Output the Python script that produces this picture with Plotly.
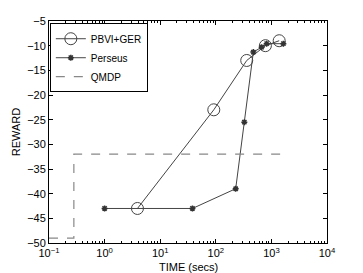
import plotly.graph_objects as go

pbvi_time = [3.9, 92, 360, 780, 1380]
pbvi_reward = [-43, -23, -13, -10, -9]

perseus_time = [1, 38, 228, 326, 473, 668, 822, 1640]
perseus_reward = [-43, -43, -39, -25.5, -11.3, -10.3, -9.6, -9.6]

qmdp_time = [0.1, 0.28, 0.28, 2000]
qmdp_reward = [-49, -49, -32, -32]

x_tickvals = [0.1, 1, 10, 100, 1000, 10000]
x_ticktext = ["10<sup>−1</sup>", "10<sup>0</sup>", "10<sup>1</sup>", "10<sup>2</sup>", "10<sup>3</sup>", "10<sup>4</sup>"]
y_tickvals = [-5, -10, -15, -20, -25, -30, -35, -40, -45, -50]

minor_vals = [m * 10 ** e for e in range(-1, 4) for m in range(2, 10)]

fig = go.Figure()
fig.add_trace(go.Scatter(
    x=pbvi_time, y=pbvi_reward, name="PBVI+GER", mode="lines+markers",
    line=dict(color="#444444", width=1),
    marker=dict(symbol="circle-open", size=12, color="#444444", line=dict(width=1)),
))
fig.add_trace(go.Scatter(
    x=perseus_time, y=perseus_reward, name="Perseus", mode="lines+markers",
    line=dict(color="#444444", width=1),
    marker=dict(symbol="asterisk-open", size=5, color="#333333", line=dict(width=1.5, color="#333333")),
))
fig.add_trace(go.Scatter(
    x=qmdp_time, y=qmdp_reward, name="QMDP", mode="lines",
    line=dict(color="#888888", width=1.2, dash="dash"),
))

axis_common = dict(
    showline=True, linecolor="black", linewidth=1, mirror="ticks",
    ticks="inside", ticklen=4, tickcolor="black", showgrid=False, zeroline=False,
    automargin=False,
    tickfont=dict(family="Liberation Sans, Arial", size=11, color="black"),
)

fig.update_layout(
    width=355, height=265,
    margin=dict(l=41, r=36, t=13, b=30),
    paper_bgcolor="white", plot_bgcolor="white",
    font=dict(family="Liberation Sans, Arial", size=11, color="black"),
    xaxis=dict(
        type="log", range=[-1, 4], tickvals=x_tickvals, ticktext=x_ticktext,
        minor=dict(tickvals=minor_vals, ticks="inside", ticklen=2, tickcolor="black", showgrid=False),
        **axis_common,
    ),
    yaxis=dict(
        range=[-50, -5], tickvals=y_tickvals,
        title=dict(text="REWARD", standoff=4, font=dict(size=11)),
        **axis_common,
    ),
    annotations=[dict(
        text="TIME (secs)", xref="paper", yref="paper", x=0.5, y=0,
        yshift=-16, xanchor="center", yanchor="top", showarrow=False,
        font=dict(size=11),
    )],
    showlegend=True,
    legend=dict(
        x=0.003, y=0.99, xanchor="left", yanchor="top",
        bgcolor="white", bordercolor="black", borderwidth=1,
        font=dict(size=10), tracegroupgap=0, itemwidth=30,
    ),
)

fig.write_html("out.html")
